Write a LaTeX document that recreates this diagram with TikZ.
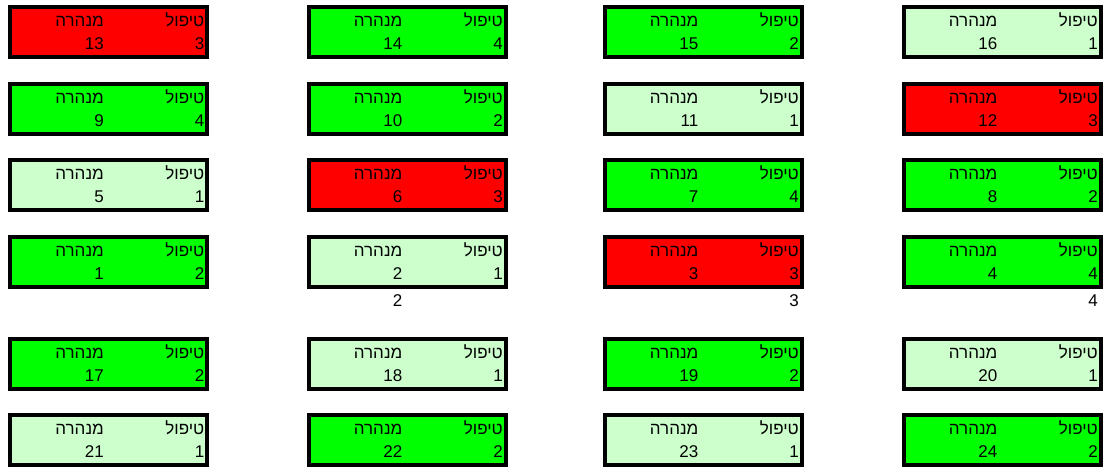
\documentclass[tikz,border=0pt]{standalone}
\usepackage{fontspec}
\setmainfont{Liberation Sans}
\newfontfamily\hebfont[Script=Hebrew]{Liberation Sans}
\TeXXeTstate=1
\definecolor{trtred}{HTML}{FF0000}
\definecolor{trtgreen}{HTML}{00FF00}
\definecolor{trtpale}{HTML}{CCFFCC}
\newcommand{\heb}[1]{{\hebfont\beginR #1\endR}}

\begin{document}
\begin{tikzpicture}[x=1pt, y=-1pt,
    every node/.style={font=\fontsize{17}{20}\selectfont, inner sep=0pt},
    cell/.style={draw, line width=4pt, minimum width=197pt, minimum height=50pt},
    lbl/.style={anchor=base east},
  ]
  \useasboundingbox (0,0) rectangle (1105,469);
  % tunnel / treatment / fill / centre
  \foreach \n/\t/\c/\x/\y in {
      13/3/trtred/108.5/32,   14/4/trtgreen/407/32,   15/2/trtgreen/703/32,   16/1/trtpale/1002/32,
      9/4/trtgreen/108.5/109, 10/2/trtgreen/407/109,  11/1/trtpale/703/109,   12/3/trtred/1002/109,
      5/1/trtpale/108.5/185,  6/3/trtred/407/185,     7/4/trtgreen/703/185,   8/2/trtgreen/1002/185,
      1/2/trtgreen/108.5/262, 2/1/trtpale/407/262,    3/3/trtred/703/262,     4/4/trtgreen/1002/262,
      17/2/trtgreen/108.5/364,18/1/trtpale/407/364,   19/2/trtgreen/703/364,  20/1/trtpale/1002/364,
      21/1/trtpale/108.5/440, 22/2/trtgreen/407/440,  23/1/trtpale/703/440,   24/2/trtgreen/1002/440}{
    \node[cell, fill=\c] (box\n) at (\x,\y) {};
    \node[lbl] (trt\n) at ({\x+96},{\y-6}) {\heb{טיפול}};
    \node[lbl] (tun\n) at ({\x-4.5},{\y-6}) {\heb{מנהרה}};
    \node[lbl] (trtv\n) at ({\x+96},{\y+17}) {\t};
    \node[lbl] (tunv\n) at ({\x-4.5},{\y+17}) {\n};
  }
  % numbers under the fourth row
  \node[lbl] (ref2) at (402.5,306) {2};
  \node[lbl] (ref3) at (799,306) {3};
  \node[lbl] (ref4) at (1098,306) {4};
\end{tikzpicture}
\end{document}
